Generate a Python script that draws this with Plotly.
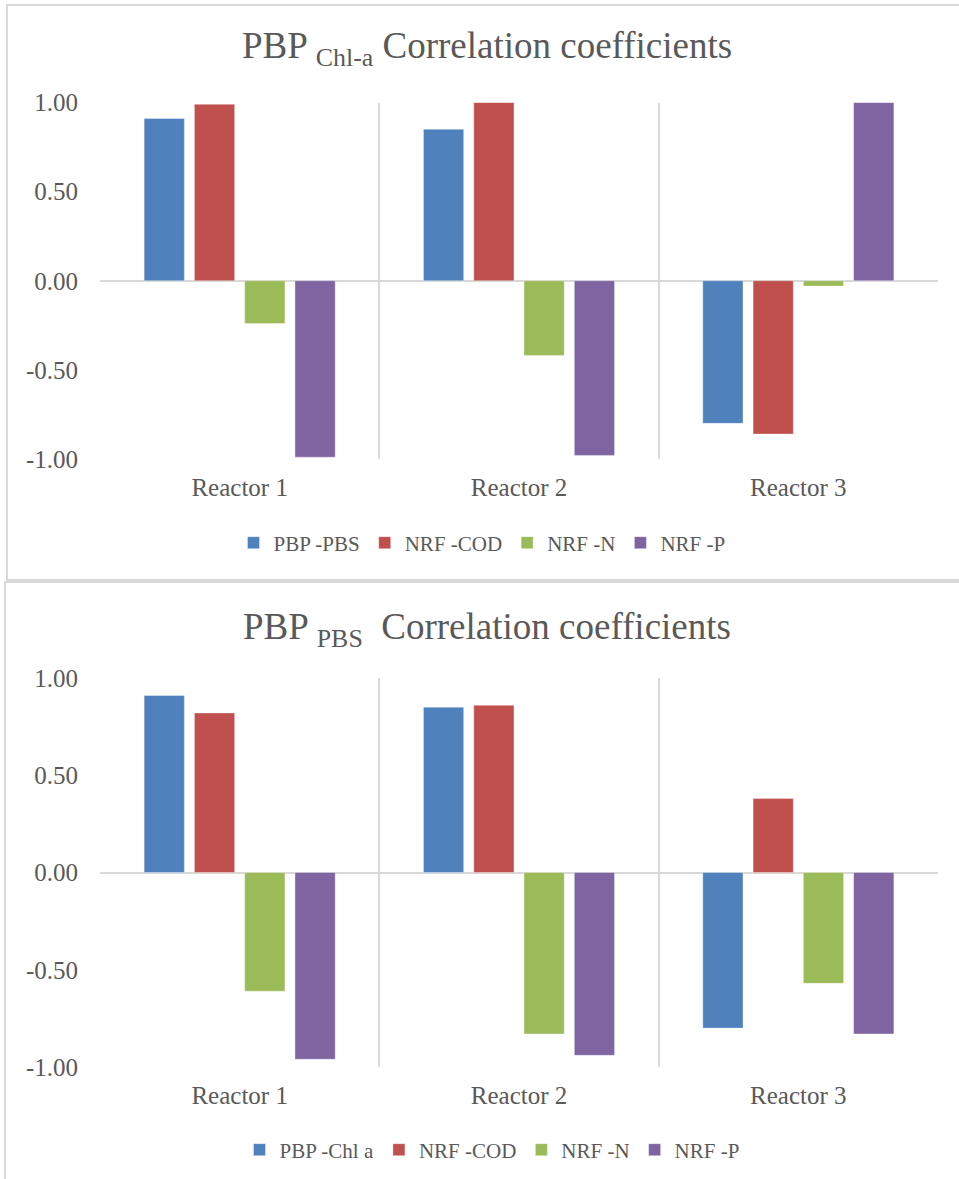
import plotly.graph_objects as go

# Categories and tick labels
reactors = ["Reactor 1", "Reactor 2", "Reactor 3"]
ytick_vals = [-1.0, -0.5, 0.0, 0.5, 1.0]
ytick_text = ["-1.00", "-0.50", "0.00", "0.50", "1.00"]

# PBP Chl-a correlation coefficients
chl_names = ["PBP -PBS", "NRF -COD", "NRF -N", "NRF -P"]
chl_pbp_pbs = [0.91, 0.85, -0.80]
chl_nrf_cod = [0.99, 1.00, -0.86]
chl_nrf_n = [-0.24, -0.42, -0.03]
chl_nrf_p = [-0.99, -0.98, 1.00]

# PBP PBS correlation coefficients
pbs_names = ["PBP -Chl a", "NRF -COD", "NRF -N", "NRF -P"]
pbs_pbp_chl = [0.91, 0.85, -0.80]
pbs_nrf_cod = [0.82, 0.86, 0.38]
pbs_nrf_n = [-0.61, -0.83, -0.57]
pbs_nrf_p = [-0.96, -0.94, -0.83]

colors = ["#4f81bd", "#c0504d", "#9bbb59", "#8064a2"]

W, H = 959, 1179
FONT = "Liberation Serif, DejaVu Serif, serif"
GREY = "#595959"
LINE = "#d9d9d9"


def px_x(p):
    return p / W


def px_y(p):
    return 1 - p / H


fig = go.Figure()

series_sets = [
    (chl_names, [chl_pbp_pbs, chl_nrf_cod, chl_nrf_n, chl_nrf_p], "x", "y", "legend"),
    (pbs_names, [pbs_pbp_chl, pbs_nrf_cod, pbs_nrf_n, pbs_nrf_p], "x2", "y2", "legend2"),
]
for names, values, xa, ya, lg in series_sets:
    for name, vals, col in zip(names, values, colors):
        fig.add_trace(go.Bar(
            x=reactors, y=vals, name=name, xaxis=xa, yaxis=ya, legend=lg,
            marker=dict(color=col, line=dict(color="rgba(255,255,255,0.35)", width=1)),
            hoverinfo="x+y+name",
        ))

axis_x = dict(
    type="category", tickson="boundaries", showgrid=True, gridcolor=LINE, gridwidth=1.5,
    ticks="", showline=False, zeroline=False, automargin=False,
    ticklabelstandoff=11,
    tickfont=dict(family=FONT, size=25, color=GREY),
)
axis_y = dict(
    range=[-1, 1], tickvals=ytick_vals, ticktext=ytick_text, showgrid=False,
    zeroline=True, zerolinecolor=LINE, zerolinewidth=2, showline=False, ticks="",
    ticklabelstandoff=21, automargin=False,
    tickfont=dict(family=FONT, size=25, color=GREY),
)

x_dom = [px_x(100), px_x(938)]
legend_common = dict(
    orientation="h", xanchor="center", yanchor="middle",
    font=dict(family=FONT, size=21, color=GREY), itemwidth=30,
    traceorder="normal", bgcolor="rgba(0,0,0,0)",
)
fig.update_layout(
    width=W, height=H,
    margin=dict(l=0, r=0, t=0, b=0, autoexpand=False),
    paper_bgcolor="white", plot_bgcolor="white",
    barmode="group", bargap=0.28, bargroupgap=0.2,
    xaxis=dict(domain=x_dom, anchor="y", **axis_x),
    yaxis=dict(domain=[px_y(459), px_y(102.5)], anchor="x", **axis_y),
    xaxis2=dict(domain=x_dom, anchor="y2", **axis_x),
    yaxis2=dict(domain=[px_y(1067), px_y(678)], anchor="x2", **axis_y),
    legend=dict(x=px_x(482), y=px_y(543), **legend_common),
    legend2=dict(x=px_x(492), y=px_y(1150), **legend_common),
    showlegend=True,
)

# Chart titles
fig.add_annotation(
    text="PBP <sub>Chl-a</sub> Correlation coefficients", xref="paper", yref="paper",
    x=px_x(487), y=px_y(49), xanchor="center", yanchor="middle", showarrow=False,
    font=dict(family=FONT, size=37, color=GREY),
)
fig.add_annotation(
    text="PBP <sub>PBS</sub>  Correlation coefficients", xref="paper", yref="paper",
    x=px_x(487), y=px_y(629), xanchor="center", yanchor="middle", showarrow=False,
    font=dict(family=FONT, size=37, color=GREY),
)

# Chart frames
fig.add_shape(type="rect", xref="paper", yref="paper",
              x0=px_x(7), x1=px_x(975), y0=px_y(580), y1=px_y(5),
              line=dict(color=LINE, width=2), fillcolor="rgba(0,0,0,0)", layer="below")
fig.add_shape(type="rect", xref="paper", yref="paper",
              x0=px_x(5), x1=px_x(975), y0=px_y(1195), y1=px_y(582),
              line=dict(color=LINE, width=2), fillcolor="rgba(0,0,0,0)", layer="below")

fig.write_html("out.html")
